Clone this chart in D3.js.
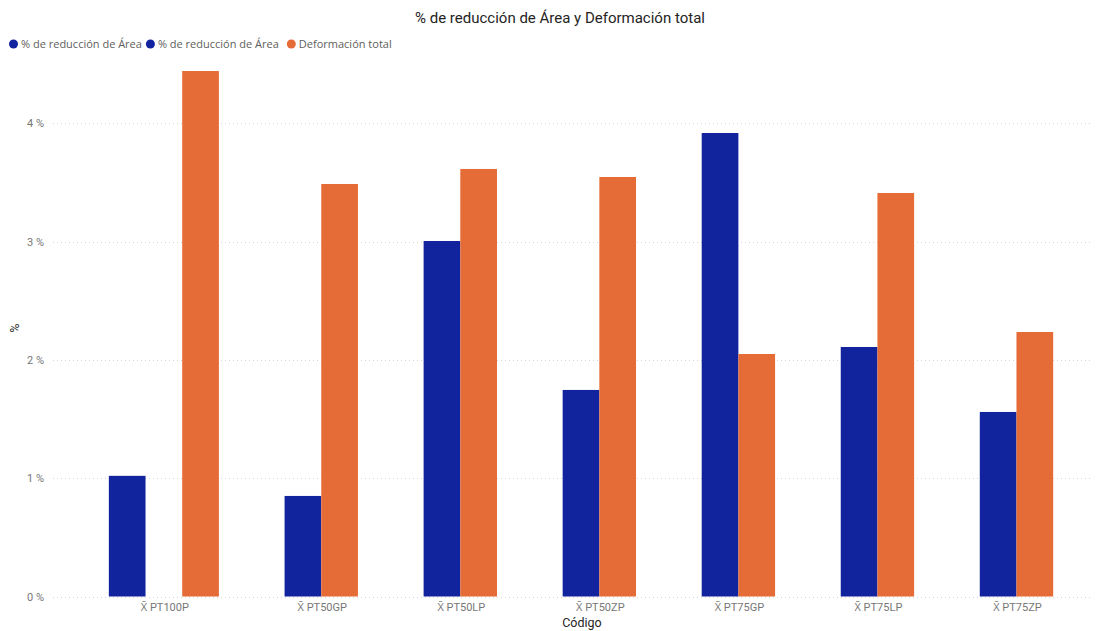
<!DOCTYPE html>
<html>
<head>
<meta charset="utf-8">
<script src="https://cdn.jsdelivr.net/npm/d3@7/dist/d3.min.js"></script>
<style>
  body { margin: 0; background: #fff; }
  svg { display: block; font-family: "Open Sans", "Noto Sans", "DejaVu Sans", sans-serif; }
  .din { font-family: Roboto, "Open Sans", sans-serif; }
</style>
</head>
<body>
<svg id="chart" width="1101" height="631"></svg>
<script>
// Categories and the three measures (values in %); null = no value for that code
const categories = ["X\u0304 PT100P", "X\u0304 PT50GP", "X\u0304 PT50LP", "X\u0304 PT50ZP", "X\u0304 PT75GP", "X\u0304 PT75LP", "X\u0304 PT75ZP"];
const reduccionA = [1.02, null, null, null, null, null, null];
const reduccionB = [null, 0.85, 3.005, 1.746, 3.918, 2.109, 1.56];
const deformacion = [4.442, 3.487, 3.614, 3.546, 2.05, 3.411, 2.236];
const seriesNames = ["% de reducción de Área", "% de reducción de Área", "Deformación total"];
const yTicks = [0, 1, 2, 3, 4];

const colors = ["#12239E", "#12239E", "#E66C37"];
const seriesValues = [reduccionA, reduccionB, deformacion];

const svg = d3.select("#chart");
const W = 1101, H = 631;
const plot = { left: 76, right: 1086, top: 60, bottom: 596.5 };

// y scale
const y = d3.scaleLinear().domain([0, 1]).range([plot.bottom, plot.bottom - 118.3]);

// Each code occupies slots from its first to its last present measure
const groups = categories.map((c, i) => {
  const present = seriesValues.map((s, k) => s[i] != null ? k : -1).filter(k => k >= 0);
  const first = d3.min(present), last = d3.max(present);
  return { cat: c, i, first, slots: last - first + 1 };
});
const gapUnits = 1.79;
let cursor = gapUnits / 2;
groups.forEach(g => { g.start = cursor; cursor += g.slots + gapUnits; });
const totalUnits = cursor - gapUnits / 2;
const x = d3.scaleLinear().domain([0, totalUnits]).range([plot.left, plot.right]);

// Title
svg.append("text")
  .attr("class", "din")
  .attr("x", 560).attr("y", 23)
  .attr("text-anchor", "middle")
  .attr("font-size", 15).attr("fill", "#252423")
  .text("% de reducción de Área y Deformación total");

// Legend
const legend = svg.append("g").attr("transform", "translate(0,44)");
let lx = 9;
seriesNames.forEach((name, k) => {
  const item = legend.append("g").attr("transform", `translate(${lx},0)`);
  item.append("circle").attr("cx", 4.5).attr("cy", 0).attr("r", 4.5).attr("fill", colors[k]);
  const t = item.append("text").attr("x", 12).attr("y", 4)
    .attr("font-size", 11).attr("fill", "#605E5C").text(name);
  lx += 12 + t.node().getComputedTextLength() + (k === 0 ? 4 : 8);
});

// Gridlines + y tick labels
const yAxis = svg.append("g");
yTicks.forEach(t => {
  yAxis.append("line")
    .attr("x1", 53).attr("x2", 1092)
    .attr("y1", Math.round(y(t)) + 0.5).attr("y2", Math.round(y(t)) + 0.5)
    .attr("stroke", "#d6d6d6").attr("stroke-width", 1)
    .attr("stroke-dasharray", "1,3");
  yAxis.append("text")
    .attr("class", "din")
    .attr("x", 44).attr("y", y(t) + 4)
    .attr("text-anchor", "end")
    .attr("font-size", 11).attr("fill", "#777")
    .text(`${t} %`);
});

// Bars
const bars = svg.append("g");
groups.forEach(g => {
  seriesValues.forEach((s, k) => {
    const v = s[g.i];
    if (v == null) return;
    const slot = g.start + (k - g.first);
    bars.append("rect")
      .attr("x", x(slot))
      .attr("width", x(slot + 1) - x(slot))
      .attr("y", y(v))
      .attr("height", y(0) - y(v))
      .attr("fill", colors[k]);
  });
});

// X tick labels
groups.forEach(g => {
  svg.append("text")
    .attr("class", "din")
    .attr("x", x(g.start + g.slots / 2) + 1)
    .attr("y", 611)
    .attr("text-anchor", "middle")
    .attr("font-size", 11).attr("fill", "#777")
    .text(g.cat);
});

// Axis titles
svg.append("text")
  .attr("class", "din")
  .attr("x", x(totalUnits / 2) + 1).attr("y", 627)
  .attr("text-anchor", "middle")
  .attr("font-size", 12.5).attr("fill", "#252423")
  .text("Código");

svg.append("text")
  .attr("class", "din")
  .attr("transform", `translate(19,${(plot.bottom + 60) / 2}) rotate(-90)`)
  .attr("text-anchor", "middle")
  .attr("font-size", 12.5).attr("fill", "#252423")
  .text("%");
</script>
</body>
</html>
